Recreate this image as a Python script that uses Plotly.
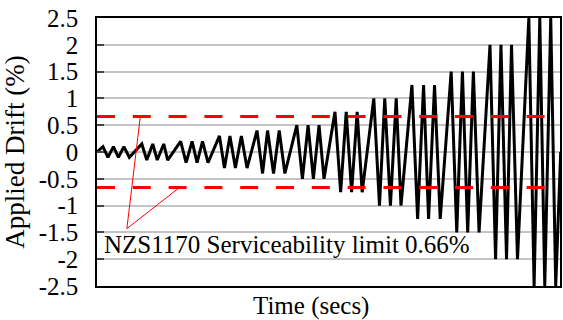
import plotly.graph_objects as go

# Loading protocol vertices (time in arbitrary units, drift in %)
time_s = [0,
          6, 11, 16.5, 21.5, 27, 32.5,
          45, 50, 56, 60.5, 67, 71,
          84, 89.5, 95.5, 100.5, 106, 111.5,
          123, 128, 133.5, 139, 145, 150.7,
          160.7, 166.3, 171.3, 177.3, 183, 188.7,
          200.7, 206.3, 212, 217.3, 223, 228,
          239, 244.7, 250.3, 255.7, 261.3, 266.3,
          278, 283.7, 289, 294.7, 300.5, 305.3,
          316.3, 322, 328, 333, 339, 344.7,
          355.7, 361.3, 367, 372.3, 378, 383.7,
          394.7, 400.3, 405.7, 411.3, 416.3, 422.3,
          433.7, 439, 444.7, 449.7, 455.7, 460.7,
          465.7]
drift_pct = [0,
             0.1, -0.1, 0.1, -0.1, 0.1, -0.1,
             0.15, -0.15, 0.15, -0.15, 0.15, -0.15,
             0.2, -0.2, 0.2, -0.2, 0.2, -0.2,
             0.3, -0.3, 0.3, -0.3, 0.3, -0.3,
             0.4, -0.4, 0.4, -0.4, 0.4, -0.4,
             0.5, -0.5, 0.5, -0.5, 0.5, -0.5,
             0.75, -0.75, 0.75, -0.75, 0.75, -0.75,
             1.0, -1.0, 1.0, -1.0, 1.0, -1.0,
             1.25, -1.25, 1.25, -1.25, 1.25, -1.25,
             1.5, -1.5, 1.5, -1.5, 1.5, -1.5,
             2.0, -2.0, 2.0, -2.0, 2.0, -2.0,
             2.5, -2.5, 2.5, -2.5, 2.5, -2.5,
             0]

limit = 0.66
x_range = [0, 465]
y_ticks = [2.5, 2, 1.5, 1, 0.5, 0, -0.5, -1, -1.5, -2, -2.5]
y_tick_labels = ["2.5", "2", "1.5", "1", "0.5", "0", "-0.5", "-1", "-1.5", "-2", "-2.5"]
annot_text = "NZS1170 Serviceability limit 0.66%"

FONT = "Liberation Serif, Times New Roman, serif"

fig = go.Figure()
fig.add_trace(go.Scatter(x=time_s, y=drift_pct, mode="lines",
                         line=dict(color="black", width=3), showlegend=False))
for lv in (limit, -limit):
    fig.add_trace(go.Scatter(x=x_range, y=[lv, lv], mode="lines",
                             line=dict(color="#ff0000", width=3, dash="18px,17.8px"),
                             showlegend=False))

# annotation leader lines
origin = (30, -1.43)
for end in [(43.5, limit), (83, -limit)]:
    fig.add_shape(type="line", xref="x", yref="y", x0=origin[0], y0=origin[1],
                  x1=end[0], y1=end[1], line=dict(color="#ff0000", width=1))

fig.add_annotation(x=5, y=-1.73, xref="x", yref="y", text=annot_text,
                   showarrow=False, xanchor="left", yanchor="middle",
                   font=dict(family=FONT, size=25, color="black"))

fig.add_annotation(x=0.462, y=-0.015, xref="paper", yref="paper", text="Time (secs)",
                   showarrow=False, xanchor="center", yanchor="top",
                   font=dict(family=FONT, size=25, color="black"))

fig.update_layout(
    width=563, height=320, autosize=False,
    margin=dict(l=97, r=1, t=18, b=34),
    plot_bgcolor="white", paper_bgcolor="white",
    font=dict(family=FONT, size=25, color="black"),
    xaxis=dict(range=x_range, showticklabels=False, ticks="", showgrid=False,
               zeroline=False, showline=True, linecolor="black", linewidth=1.5, mirror=True),
    yaxis=dict(range=[-2.5, 2.5], tickvals=y_ticks, ticktext=y_tick_labels,
               ticks="inside", ticklen=7, tickcolor="#444", tickwidth=1.5,
               ticklabelstandoff=12,
               showgrid=True, gridcolor="#c4c4c4", gridwidth=1.5, zeroline=False,
               showline=True, linecolor="black", linewidth=1.5, mirror=True,
               title=dict(text="Applied Drift (%)", font=dict(family=FONT, size=27), standoff=8),
               tickfont=dict(family=FONT, size=25)),
)

fig.write_html("out.html")
